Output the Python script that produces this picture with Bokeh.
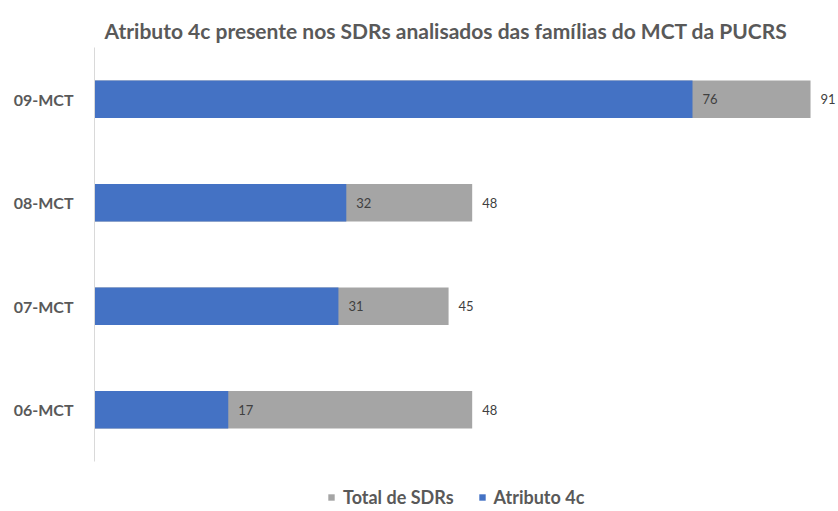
from bokeh.plotting import figure
from bokeh.layouts import column
from bokeh.models import ColumnDataSource, FactorRange, Range1d, Legend, LegendItem
from bokeh.core.properties import value
from bokeh.embed import file_html
from bokeh.resources import INLINE

categories = ["06-MCT", "07-MCT", "08-MCT", "09-MCT"]
total_sdrs = [48, 45, 48, 91]
atributo_4c = [17, 31, 32, 76]
series_names = ["Total de SDRs", "Atributo 4c"]
series_colors = ["#a5a5a5", "#4472c4"]

src = ColumnDataSource(dict(
    cat=categories,
    total=total_sdrs,
    attr=atributo_4c,
    total_lbl=[str(v) for v in total_sdrs],
    attr_lbl=[str(v) for v in atributo_4c],
))

p = figure(width=836, height=469, output_backend="svg", toolbar_location=None,
           y_range=FactorRange(*categories, range_padding=0),
           x_range=Range1d(0, 94.3),
           min_border_left=94, min_border_right=0, min_border_top=47, min_border_bottom=8)

p.title.text = "Atributo 4c presente nos SDRs analisados das famílias do MCT da PUCRS"
p.title.align = "left"
p.title.offset = 10
p.title.text_font = "Lato"
p.title.text_font_size = "21px"
p.title.text_font_style = "bold"
p.title.text_color = "#595959"

p.hbar(y="cat", right="total", left=0, height=0.36, source=src,
       fill_color=series_colors[0], line_color=None)
p.hbar(y="cat", right="attr", left=0, height=0.36, source=src,
       fill_color=series_colors[1], line_color=None)

p.text(x="attr", y="cat", text="attr_lbl", source=src, x_offset=10,
       text_align="left", text_baseline="middle", text_font=value("Lato"),
       text_font_size="13px", text_color="#404040")
p.text(x="total", y="cat", text="total_lbl", source=src, x_offset=10,
       text_align="left", text_baseline="middle", text_font=value("Lato"),
       text_font_size="13px", text_color="#404040")

p.xaxis.visible = False
p.xgrid.grid_line_color = None
p.ygrid.grid_line_color = None
p.outline_line_color = None

ya = p.yaxis[0]
ya.axis_line_color = "#d9d9d9"
ya.major_tick_line_color = None
ya.minor_tick_line_color = None
ya.major_label_text_font = "Lato"
ya.major_label_text_font_size = "16px"
ya.major_label_text_font_style = "bold"
ya.major_label_text_color = "#595959"
ya.major_label_standoff = 15

# legend strip: same series, zero-height and outside this strip's view; only legend entries show
lg = figure(width=836, height=42, output_backend="svg", toolbar_location=None,
            x_axis_type=None, y_axis_type=None,
            x_range=Range1d(200, 300), y_range=FactorRange(*categories),
            min_border_left=0, min_border_right=0, min_border_top=0, min_border_bottom=0)
lg.outline_line_color = None
lg.xgrid.grid_line_color = None
lg.ygrid.grid_line_color = None
r_t = lg.hbar(y="cat", right="total", left=0, height=0, source=src,
              fill_color=series_colors[0], line_color=None)
r_a = lg.hbar(y="cat", right="attr", left=0, height=0, source=src,
              fill_color=series_colors[1], line_color=None)

legend = Legend(items=[LegendItem(label=series_names[0], renderers=[r_t]),
                       LegendItem(label=series_names[1], renderers=[r_a])],
                orientation="horizontal", location=(233, 3),
                label_text_font="Lato", label_text_font_size="18px",
                label_text_font_style="bold", label_text_color="#595959",
                glyph_width=8, glyph_height=8, label_standoff=8, spacing=24,
                label_height=20, border_line_color=None, background_fill_alpha=0,
                padding=0, margin=0)
lg.add_layout(legend, "center")

layout = column(p, lg, spacing=0)
open("out.html", "w").write(file_html(layout, INLINE))
